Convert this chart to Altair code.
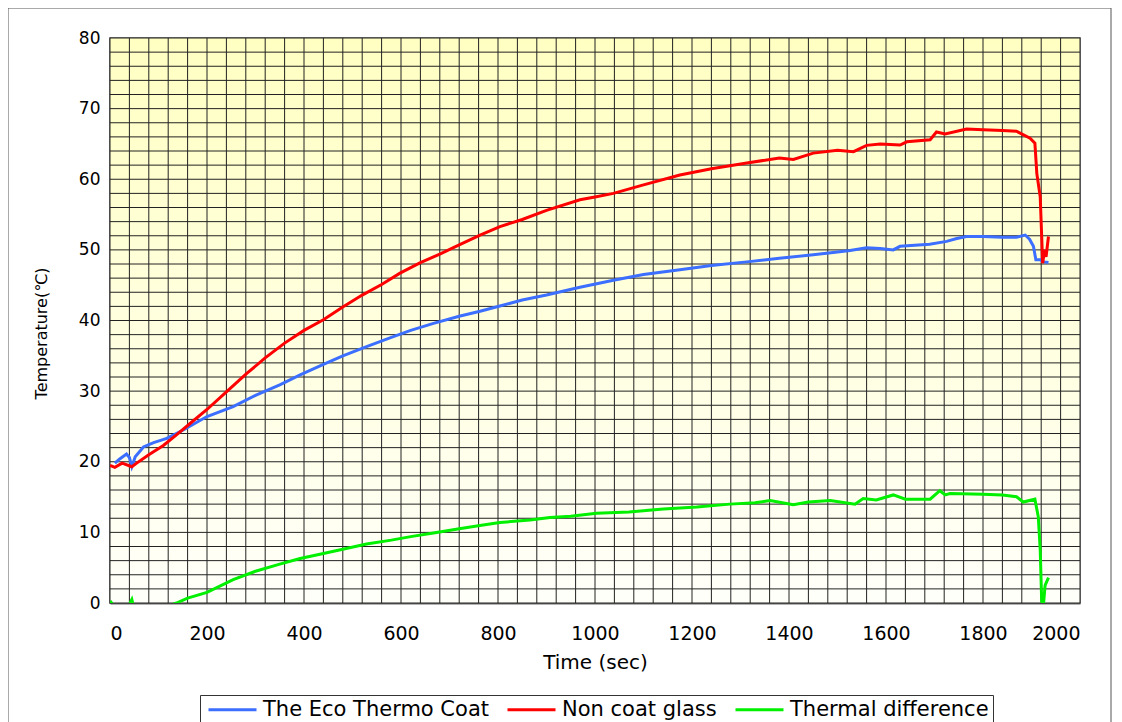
import altair as alt
import pandas as pd

# ---- data ----
red_t = [0, 10, 25, 45, 55, 80, 110, 137, 170, 200, 240, 282, 320, 360, 400, 440, 480, 520, 560, 598,
         640, 680, 720, 763, 804, 850, 900, 969, 1000, 1038, 1100, 1175, 1240, 1313, 1380, 1409, 1450, 1500,
         1533, 1560, 1588, 1629, 1643, 1691, 1704, 1722, 1766, 1800, 1840, 1869, 1897, 1907, 1911, 1918,
         1921, 1923, 1927, 1930, 1935]
red_v = [19.5, 19.2, 19.8, 19.3, 19.8, 21.0, 22.3, 23.8, 25.7, 27.4, 29.9, 32.5, 34.7, 36.8, 38.6, 40.1,
         41.9, 43.6, 45.1, 46.7, 48.2, 49.4, 50.7, 52.1, 53.3, 54.3, 55.6, 57.1, 57.5, 58.0, 59.2, 60.6, 61.5,
         62.3, 63.0, 62.8, 63.7, 64.1, 63.9, 64.8, 65.0, 64.85, 65.3, 65.6, 66.7, 66.4, 67.1, 67.0, 66.9, 66.8,
         65.8, 65.1, 60.8, 57.5, 51.9, 48.1, 50.0, 49.0, 51.9]

blue_t = [10, 20, 34, 40, 45, 52, 69, 90, 117, 151, 200, 254, 300, 350, 392, 440, 480, 529, 580, 620, 667,
          720, 763, 804, 850, 900, 969, 1038, 1100, 1175, 1240, 1313, 1380, 1450, 1500, 1526, 1560, 1588,
          1615, 1629, 1690, 1725, 1746, 1766, 1800, 1840, 1869, 1887, 1896, 1904, 1909, 1918, 1925, 1935]
blue_v = [19.8, 20.4, 21.1, 20.6, 19.3, 20.7, 22.1, 22.7, 23.3, 24.5, 26.4, 27.8, 29.4, 30.9, 32.3, 33.8,
          35.0, 36.3, 37.6, 38.6, 39.6, 40.6, 41.3, 42.05, 42.9, 43.6, 44.7, 45.7, 46.5, 47.2, 47.8, 48.3,
          48.8, 49.3, 49.7, 49.9, 50.3, 50.2, 50.0, 50.5, 50.8, 51.2, 51.6, 51.9, 51.9, 51.8, 51.8, 52.1,
          51.5, 50.5, 48.6, 48.6, 48.3, 48.2]

green_t = [0, 8, 34, 42, 45, 50, 69, 117, 137, 160, 200, 254, 300, 350, 392, 440, 480, 529, 580, 620, 667,
           720, 766, 804, 866, 907, 950, 1003, 1070, 1141, 1210, 1278, 1330, 1361, 1409, 1440, 1485, 1536,
           1553, 1580, 1615, 1640, 1691, 1711, 1722, 1732, 1800, 1840, 1869, 1883, 1907, 1914, 1918, 1921,
           1925, 1928, 1935]
green_v = [0.3, -0.4, -2.0, 0.1, 0.5, -0.9, -2.0, -0.5, 0.0, 0.7, 1.5, 3.3, 4.5, 5.5, 6.3, 7.0, 7.6, 8.35,
           8.9, 9.4, 9.9, 10.5, 11.0, 11.4, 11.75, 12.1, 12.3, 12.7, 12.9, 13.3, 13.6, 14.0, 14.2, 14.5, 13.9,
           14.3, 14.5, 14.0, 14.8, 14.6, 15.3, 14.7, 14.7, 15.9, 15.3, 15.5, 15.4, 15.3, 15.05, 14.3, 14.7,
           12.2, 7.5, 0.2, 0.0, 2.5, 3.6]

series_names = ["The Eco Thermo Coat", "Non coat glass", "Thermal difference"]
series_colors = ["#3C6EFF", "#FF0000", "#00F000"]

x_grid = list(range(0, 2001, 40))
y_grid = list(range(0, 81, 2))
x_labels = list(range(0, 2001, 200))
y_labels = list(range(0, 81, 10))

rows = []
for name, ts, vs in [(series_names[0], blue_t, blue_v), (series_names[1], red_t, red_v),
                     (series_names[2], green_t, green_v)]:
    for i, (t, v) in enumerate(zip(ts, vs)):
        rows.append({"time": t, "temp": v, "series": name, "order": i})
df = pd.DataFrame(rows)

W, H = 970, 565
xs = alt.Scale(domain=[0, 2000], nice=False)
ys = alt.Scale(domain=[0, 80], nice=False)

x_axis = alt.Axis(values=x_labels, format="d", title="Time (sec)", grid=False, ticks=False,
                  labelFont="DejaVu Sans", labelFontSize=19, labelColor="#000",
                  labelPadding=21, titleFont="DejaVu Sans", titleFontSize=20,
                  titleFontWeight="normal", titleColor="#000", titlePadding=9,
                  domainColor="#666", domainWidth=2)
y_axis = alt.Axis(values=y_labels, format="d", title="Temperature(℃)", grid=False, ticks=False,
                  labelFont="DejaVu Sans", labelFontSize=17, labelColor="#000",
                  labelPadding=10, titleFont="DejaVu Sans", titleFontSize=16,
                  titleFontWeight="normal", titleColor="#000", titlePadding=29,
                  titleY=295, domainColor="#666", domainWidth=2)

bg = alt.Chart(pd.DataFrame({"a": [0]})).mark_rect(
    fill=alt.Gradient(gradient="linear",
                      stops=[alt.GradientStop(color="#FFFFC2", offset=0),
                             alt.GradientStop(color="#FFFFFA", offset=1)],
                      x1=0, x2=0, y1=0, y2=1)
).encode(x=alt.value(0), x2=alt.value(W), y=alt.value(0), y2=alt.value(H))

vgrid = alt.Chart(pd.DataFrame({"g": x_grid})).mark_rule(color="#222", strokeWidth=1).encode(
    x=alt.X("g:Q", scale=xs, axis=x_axis, title="Time (sec)"))
hgrid = alt.Chart(pd.DataFrame({"g": y_grid})).mark_rule(color="#222", strokeWidth=1).encode(
    y=alt.Y("g:Q", scale=ys, axis=y_axis, title="Temperature(℃)"))

lines = alt.Chart(df).mark_line(strokeWidth=3, clip=True).encode(
    x=alt.X("time:Q", scale=xs, axis=x_axis, title="Time (sec)"),
    y=alt.Y("temp:Q", scale=ys, axis=y_axis, title="Temperature(℃)"),
    color=alt.Color("series:N", scale=alt.Scale(domain=series_names, range=series_colors),
                    sort=series_names,
                    legend=alt.Legend(title=None, orient="none", direction="horizontal",
                                      legendX=90, legendY=657, symbolType="M-1,0L7,0",
                                      symbolStrokeWidth=3, symbolSize=144,
                                      labelFont="DejaVu Sans", labelFontSize=21,
                                      labelOffset=38,
                                      labelColor="#000", strokeColor="#333", fillColor="#fff",
                                      padding=4, columnPadding=12, labelLimit=400)),
    detail="series:N",
    order="order:Q",
)

frame = alt.Chart(pd.DataFrame({"a": [0]})).mark_rect(
    fill=None, stroke="#555", strokeWidth=1, clip=False
).encode(x=alt.value(-102), x2=alt.value(1001), y=alt.value(-30), y2=alt.value(700))

chart = alt.layer(bg, vgrid, hgrid, lines, frame).properties(
    width=W, height=H,
    autosize=alt.AutoSizeParams(type="none"),
    padding={"left": 102, "top": 30, "right": 32, "bottom": 120},
).configure_view(stroke="#888", strokeWidth=2)

chart.save("out.html", embed_options={"renderer": "svg", "actions": False})
